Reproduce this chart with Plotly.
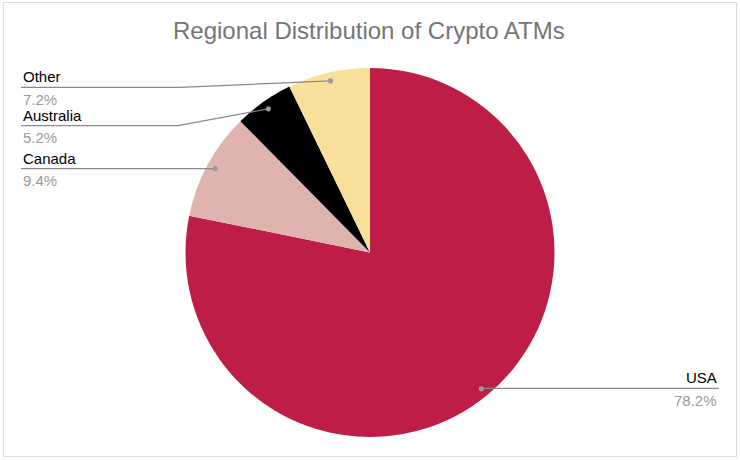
import math
import plotly.graph_objects as go

# ---- data ----
regions = ["USA", "Canada", "Australia", "Other"]
shares = [78.2, 9.4, 5.2, 7.2]
colors = ["#BE1E45", "#E0B4AE", "#000000", "#F8DF9A"]
title_text = "Regional Distribution of Crypto ATMs"

# ---- layout geometry (pixels) ----
W, H = 740, 460
CX, CY, R = 370, 252.5, 184.5
DOT_R_FRAC = 0.954
# label anchor: side, x of text edge, y of leader baseline, x of bend
label_pos = {
    "USA": ("right", 719, 388.3, None),
    "Canada": ("left", 21, 168.7, None),
    "Australia": ("left", 21, 125.7, 178),
    "Other": ("left", 21, 87.3, 180),
}

def px(x):
    return x / W

def py(y):
    return 1 - y / H

fig = go.Figure()
fig.add_trace(go.Pie(
    labels=regions,
    values=shares,
    marker=dict(colors=colors, line=dict(width=0)),
    sort=False,
    direction="clockwise",
    rotation=0,
    textinfo="none",
    hoverinfo="label+percent",
    showlegend=False,
    domain=dict(x=[px(CX - R), px(CX + R)], y=[py(CY + R), py(CY - R)]),
))

shapes = []
annotations = []
total = sum(shares)
cum = 0.0
line_col = "#8a8a8a"
for name, v in zip(regions, shares):
    mid = (cum + v / 2) / total * 2 * math.pi
    cum += v
    dx = CX + DOT_R_FRAC * R * math.sin(mid)
    dy = CY - DOT_R_FRAC * R * math.cos(mid)
    side, tx, ly, bend = label_pos[name]
    pts = [(dx, dy)]
    if bend is not None:
        pts.append((bend, ly))
    else:
        pts.append((dx, ly))
    pts.append((tx, ly))
    path = "M " + " L ".join(f"{px(x):.5f},{py(y):.5f}" for x, y in pts)
    shapes.append(dict(type="path", path=path, xref="paper", yref="paper",
                       line=dict(color=line_col, width=1.2)))
    shapes.append(dict(type="circle", xref="paper", yref="paper",
                       x0=px(dx - 2.6), x1=px(dx + 2.6), y0=py(dy + 2.6), y1=py(dy - 2.6),
                       fillcolor="#9a9a9a", line=dict(width=0)))
    xanchor = "left" if side == "left" else "right"
    pct = f"{v / total * 100:.1f}%"
    annotations.append(dict(x=px(tx), y=py(ly - 10.5), xref="paper", yref="paper",
                            text=name, showarrow=False, xanchor=xanchor, yanchor="middle",
                            font=dict(family="Liberation Sans, Arial", size=15, color="#000000")))
    annotations.append(dict(x=px(tx), y=py(ly + 12), xref="paper", yref="paper",
                            text=pct, showarrow=False, xanchor=xanchor, yanchor="middle",
                            font=dict(family="Liberation Sans, Arial", size=15, color="#9b9b9b")))

annotations.append(dict(x=px(369), y=py(31), xref="paper", yref="paper",
                        text=title_text, showarrow=False, xanchor="center", yanchor="middle",
                        font=dict(family="Liberation Sans, Arial", size=24, color="#757575")))

# outer border
shapes.append(dict(type="rect", xref="paper", yref="paper",
                   x0=px(3.5), x1=px(736.5), y0=py(456.5), y1=py(2.5),
                   line=dict(color="#dcdcdc", width=1.2), layer="below"))

fig.update_layout(
    width=W, height=H,
    margin=dict(l=0, r=0, t=0, b=0),
    paper_bgcolor="#ffffff",
    plot_bgcolor="#ffffff",
    shapes=shapes,
    annotations=annotations,
)

fig.write_html("out.html", config={"displayModeBar": False},
               post_script="document.body.style.margin='0';document.body.style.padding='0';")
